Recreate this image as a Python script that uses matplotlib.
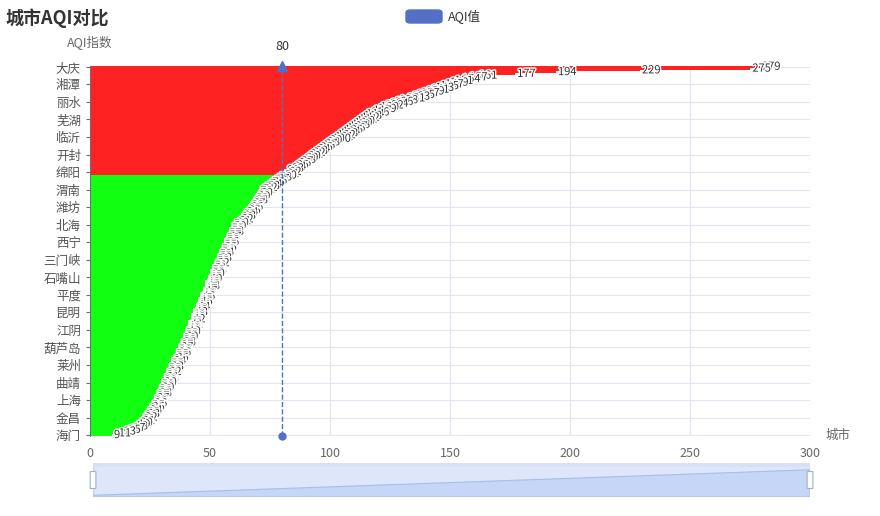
import matplotlib.pyplot as plt
import matplotlib.patheffects as pe
from matplotlib.patches import FancyBboxPatch, Rectangle, Polygon

plt.rcParams['font.family'] = ['Noto Sans CJK SC', 'DejaVu Sans']

# AQI values, sorted high -> low (one per city, top to bottom)
aqi = [279, 275, 229, 194, 177, 161, 157, 154, 151, 149,
       147, 145, 143, 141, 139, 137, 135, 133, 131, 128,
       126, 124, 122, 120, 119, 117, 116, 114, 113, 112,
       111, 110, 109, 108, 107, 106, 105, 104, 103, 102,
       101, 100, 99, 98, 97, 96, 95, 94, 93, 92,
       91, 90, 89, 88, 87, 86, 85, 84, 83, 81,
       82, 81, 80, 78, 77, 76, 75, 74, 73, 72,
       71, 70, 70, 69, 69, 68, 68, 67, 67, 66,
       66, 65, 65, 64, 63, 63, 62, 62, 61, 60,
       59, 59, 58, 58, 58, 57, 57, 57, 56, 56,
       56, 55, 55, 55, 54, 54, 54, 53, 53, 53,
       52, 52, 52, 51, 51, 51, 50, 50, 50, 49,
       49, 49, 48, 48, 48, 48, 47, 47, 47, 46,
       46, 46, 45, 45, 45, 44, 44, 44, 43, 43,
       43, 42, 42, 42, 42, 41, 41, 41, 40, 40,
       40, 40, 39, 39, 39, 38, 38, 38, 37, 37,
       37, 36, 36, 36, 35, 35, 35, 34, 34, 33,
       33, 33, 32, 32, 32, 31, 31, 31, 30, 30,
       30, 29, 29, 29, 28, 28, 28, 27, 27, 27,
       26, 26, 26, 25, 25, 24, 24, 23, 23, 22,
       22, 21, 21, 20, 19, 18, 17, 15, 13, 11,
       9]
# only every 10th city name is shown on the axis
shown_cities = ['大庆', '湘潭', '丽水', '芜湖', '临沂', '开封', '绵阳', '渭南', '潍坊', '北海',
                '西宁', '三门峡', '石嘴山', '平度', '昆明', '江阴', '葫芦岛', '莱州', '曲靖',
                '上海', '金昌', '海门']
threshold = 80

fig = plt.figure(figsize=(8.8, 5.16), dpi=100)
ax = fig.add_axes([90/880, 1-436/516, 720/880, 370/516])

n = len(aqi)
ypos = list(range(n))
colors = ['#ff2222' if v > threshold else '#11ff11' for v in aqi]
ax.barh(ypos, aqi, height=1.0, color=colors, edgecolor='none', zorder=2)

for i, v in enumerate(aqi):
    ax.text(v + 1, i, str(v), fontsize=8, color='#333333', va='center', ha='left', zorder=4,
            path_effects=[pe.withStroke(linewidth=2, foreground='white')])

ax.set_xlim(0, 300)
ax.set_ylim(n - 0.5, -0.5)
tick_idx = list(range(0, n, 10))
ax.set_yticks(tick_idx)
ax.set_yticklabels(shown_cities[:len(tick_idx)], fontsize=9, color='#555555')
ax.set_xticks([0, 50, 100, 150, 200, 250, 300])
ax.tick_params(axis='x', length=0, labelsize=9, colors='#666666', pad=8)
ax.tick_params(axis='y', length=3, color='#6e7079', colors='#555555')
ax.grid(True, axis='both', color='#e0e6f1', lw=0.8, zorder=0)
for s in ['top', 'right', 'bottom']:
    ax.spines[s].set_visible(False)
ax.spines['left'].set_color('#6e7079')

# mark line at 80
ax.plot([threshold, threshold], [n - 0.5, -0.5], ls='--', color='#5470c6', lw=1, zorder=5, clip_on=False)
ax.plot([threshold], [n - 0.5], 'o', color='#5470c6', ms=5, zorder=6, clip_on=False)
ax.plot([threshold], [-0.5], marker='^', color='#5470c6', ms=7, zorder=6, clip_on=False)
ax.text(threshold, -8, '80', ha='center', va='bottom', fontsize=9, color='#333333')

fig.text(5/880, 1-18/516, '城市AQI对比', fontsize=13, fontweight='bold', color='#333333', va='center')
fig.text(90/880, 1-43/516, 'AQI指数', fontsize=9, color='#666666', va='center', ha='center')
fig.text(826/880, 1-435/516, '城市', fontsize=9, color='#666666', va='center')

# legend
fig.patches.append(FancyBboxPatch((406/880, 1-23/516), 36/880, 13/516, boxstyle='round,pad=0,rounding_size=0.005',
                                  transform=fig.transFigure, color='#5470c6'))
fig.text(448/880, 1-17/516, 'AQI值', fontsize=9, color='#333333', va='center')

# data zoom slider
zax = fig.add_axes([93/880, 1-497/516, 717/880, 34/516])
zax.set_xlim(0, 1)
zax.set_ylim(0, 1)
zax.add_patch(Rectangle((0, 0), 1, 1, facecolor='#dde6fb', edgecolor='#c6d2ee', lw=1))
zax.add_patch(Polygon([(0, 0), (1, 0), (1, 0.8), (0, 0.05)], closed=True, facecolor='#c5d6f7', edgecolor='#a8bde8', lw=0.8))
zax.add_patch(Rectangle((0, 0.88), 1, 0.12, facecolor='#d7e0f5', edgecolor='none'))
for xh in (0, 1):
    zax.add_patch(FancyBboxPatch((xh - 0.004, 0.25), 0.008, 0.5, boxstyle='round,pad=0,rounding_size=0.003',
                                 facecolor='white', edgecolor='#a0b0d0', lw=0.8, clip_on=False))
zax.axis('off')

fig.savefig('out.png', dpi=100)
